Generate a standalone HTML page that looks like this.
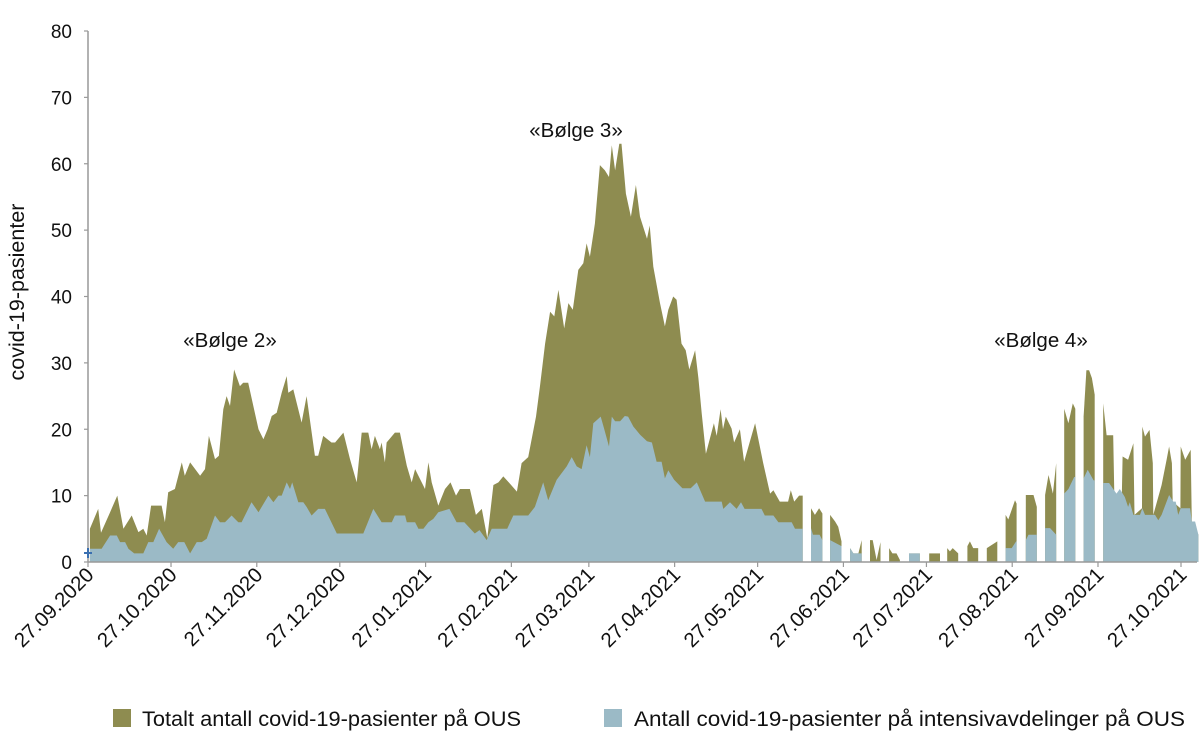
<!DOCTYPE html>
<html><head><meta charset="utf-8"><style>
body{margin:0;background:#fff;}
svg{display:block;font-family:"Liberation Sans",sans-serif;}
</style></head><body>
<svg id="chart" width="1200" height="746" viewBox="0 0 1200 746" xmlns="http://www.w3.org/2000/svg">
<g id="plot"></g>
<g id="axes"></g>
<text transform="translate(24,292) rotate(-90)" text-anchor="middle" font-size="21.5" fill="#111">covid-19-pasienter</text>
<text x="230" y="347" text-anchor="middle" font-size="20.5" fill="#111">«Bølge 2»</text>
<text x="576" y="137" text-anchor="middle" font-size="20.5" fill="#111">«Bølge 3»</text>
<text x="1041" y="347" text-anchor="middle" font-size="20.5" fill="#111">«Bølge 4»</text>
<g>
<rect x="113" y="709" width="18" height="18" fill="#8e8c50"/>
<text x="142" y="726" font-size="21.5" fill="#111" textLength="379" lengthAdjust="spacingAndGlyphs">Totalt antall covid-19-pasienter på OUS</text>
<rect x="604" y="709" width="18" height="18" fill="#9bbac6"/>
<text x="634" y="726" font-size="21.5" fill="#111" textLength="551" lengthAdjust="spacingAndGlyphs">Antall covid-19-pasienter på intensivavdelinger på OUS</text>
</g>
</svg>
<script>
const yTicks=[0,10,20,30,40,50,60,70,80];
const xTickLabels=["27.09.2020","27.10.2020","27.11.2020","27.12.2020","27.01.2021","27.02.2021","27.03.2021","27.04.2021","27.05.2021","27.06.2021","27.07.2021","27.08.2021","27.09.2021","27.10.2021"];
const xTickDays=[0,30,61,91,122,153,181,212,242,273,303,334,365,395];
const totalDays=[0.7,3.7,4.7,8,10.6,12.8,15.8,18.2,20,21.2,22.8,26.6,27.8,29,31.4,33.9,35,36.9,40.5,42.3,43.7,45.9,47.3,48.9,50.1,51.3,52.8,54.9,56.1,57.9,61.6,63.4,64.9,66.4,68.2,70,71.8,72.4,74.2,77.2,79,82,83.2,85,88,89.3,92.3,94.7,97.1,98.9,101.3,102.5,103.7,105.5,106.1,107.3,107.9,110.9,112.7,115.2,117,118.2,121.8,123,124.2,126.6,129,131,133,134.4,138,140.2,142.3,144.3,146.5,148.3,150.1,152.5,155,156.7,159.1,161.9,163.3,165.2,167,168.5,170,172.1,173.6,175.2,177.2,179,180.2,181.4,183.2,185,186.8,188.3,189.3,190.5,192,192.8,194.4,196.2,198,199.5,202,203,204.3,206.7,208.5,209.7,211.5,212.7,214.5,216,217.3,219.4,220.6,221.8,223.3,226.2,227.2,228.6,229.5,230.5,232.6,233.5,235.6,237.1,241.1,244,246.5,247.7,250,253,254,255.2,257,258.3,null,
261.3,262.7,264.2,265.4,null,268.2,270,271.1,272.3,null,275.4,276.6,278.4,279.6,null,282.6,283.6,285,286.4,null,289.5,290.7,292.2,293.4,null,296.7,300.6,null,304,307.9,null,310.5,311.5,312.5,314.5,null,317.8,318.7,319.9,321.7,null,324.8,328.6,null,331.6,332.6,335,335.6,null,338.9,341.7,342.9,null,345.9,347.1,348.7,349.9,null,352.8,354.3,355.9,356.8,null,359.8,360.8,361.8,362.8,363.8,null,
366.9,368.1,370.5,370.9,373.6,373.9,375.9,377.8,378.2,380.9,381,382,383.6,384.8,385,388,389.8,390.7,391.7,392,394.8,394.9,396.5,398.5,398.9,401.3];
const totalVals=[5,8,4.4,7.5,10,5,7,4.5,5,4,8.5,8.5,6,10.5,11,15,13,15,13,14,19,15.5,16,23,25,23.5,29,26.5,27,27,20,18.5,20,22,22.5,25.5,28,25.5,26,21,25,16,16,19,18,18,19.5,15.5,12,19.5,19.5,17,19,17,18,15,18,19.5,19.5,14.5,12,14,11,15,12,8.5,11,12,10,11,11,7.1,8,3.6,11.6,12,12.9,11.8,10.6,14.9,15.8,21.9,26.4,32.9,37.7,37,41,35.2,39,38,44,45,48,46,51,59.8,59,58,62.8,59,63,63,55.5,52,56.8,52,48.7,50.7,44.5,39,35.5,38,40,39.5,32.9,31.9,29,31.9,27.7,22.4,16.3,20.9,19,23,20,21.9,20.1,18,20,15.1,20.9,14.9,10.3,10.8,9.1,9.1,10.8,9.1,10,10,null,
8.1,7.1,8.1,7.3,null,7.1,6.1,5.3,3.1,null,2.1,1.3,1.3,3.3,null,3.3,3.3,0.3,3,null,2.1,1.3,1.3,0.3,null,1.3,1.3,null,1.3,1.3,null,2.1,1.6,2.1,1.3,null,2.4,3.1,2.1,2.1,null,2.1,3.1,null,7.1,6.4,9.3,8.8,null,10.1,10.1,8.3,null,10.1,13.1,10.3,14.9,null,23.1,20.9,23.9,23.1,null,21.9,28.9,28.9,27.7,25.2,null,
23.9,19.1,19.1,10.3,9.8,15.9,15.4,17.9,7.1,8.1,20.4,18.9,19.9,14.9,7.1,11.6,15.4,17.4,14.9,9.1,8.1,17.4,15.4,16.9,6.1,4.1];
const icuDays=[0.7,4.9,8,10.4,11.6,13.4,14.6,16.7,20,21.8,23.6,25.7,28.4,30.8,32.6,34.8,36.9,39.3,41.1,42.9,45.9,47.7,49.5,51.9,54.3,55.5,59.1,61.6,65.2,67,68.8,70,71.8,73,73.8,76,77.8,79,80.8,83.2,85.6,89.9,99.5,103.1,106.1,109.8,110.9,114.6,115.2,118.2,119.4,121.2,123,124.8,126.6,130.6,133.2,136,139.8,141.5,144.1,145.9,151.5,153.7,159.1,161.5,164.5,166.3,169.4,173,174.8,176.6,178.4,180.2,181.4,182.6,185.3,186.5,188.3,189.3,190.5,192.3,194,195.2,197.1,199.5,202,203.8,205.5,207.3,208.5,209.7,211.8,214.8,217.8,220,223,229,229.6,232,234.4,236,237.3,243.4,244.6,247.7,249.5,254.3,255.5,258.3,null,
261.3,262,264.4,265.4,null,268.2,272.3,null,275.4,276.6,279.6,null,296.7,300.6,null,331.6,333.8,335.4,335.6,null,338.9,339.9,342.9,null,345.9,347.7,349.9,null,352.8,354.3,356.4,356.8,null,359.8,361.3,363.4,363.8,null,
366.9,369,370.5,371.7,372.9,374.7,375.9,376.5,377.8,380.2,381,382,385.6,386.8,388,390.7,392.2,393.1,394,394.9,398.3,398.9,400.1,401.3];
const icuVals=[2,2,4,4,3,3,2,1.3,1.3,3,3,5,3,2,3,3,1.3,3,3,3.5,7,6,6,7,6,6,9,7.5,10,9,10,10,12,11,12,9,9,8.3,7,8,8,4.3,4.3,8,6,6,7,7,6,6,5,5,6,6.5,7.5,8,6,6,4.3,4.8,3.3,5,5,7,7,8.3,12,9.3,12.4,14.4,15.8,14.4,14,17.6,15.8,20.9,21.9,20.1,17.4,21.9,21.2,21.2,22,21.9,20.4,19.2,18.2,18,15.1,15.1,12.6,13.8,12.4,11.1,11.1,12,9.1,9.1,8,9,8,9,8,8,7,7,6,6,5,5,null,
5.1,4.1,4.1,3.3,null,3.3,2.4,null,2.1,1.3,1.3,null,1.3,1.3,null,2.1,2.1,3.1,3.1,null,3.3,4.1,4.1,null,5.1,5.1,4.1,null,10.3,11,12.8,12.8,null,12.6,13.9,12.3,12.3,null,
11.9,11.9,11,10.3,11,9.8,8.3,9,7.1,7.1,8.1,7.1,7.1,6.3,7.1,10.1,9.1,9.1,7.1,8.1,8.1,6.1,6.1,4.1];

const NS="http://www.w3.org/2000/svg";
const X0=88, PXD=(1181-88)/395, Y0=562, PXU=(562-31)/80;
const xs=d=>X0+d*PXD, ys=v=>Y0-v*PXU;
const plot=document.getElementById('plot'), axes=document.getElementById('axes');
function mk(tag,attrs,parent){const e=document.createElementNS(NS,tag);for(const k in attrs)e.setAttribute(k,attrs[k]);parent.appendChild(e);return e;}
function drawArea(days,vals,color,name){
  let seg=[];const segs=[];
  for(let i=0;i<days.length;i++){if(days[i]===null){if(seg.length)segs.push(seg);seg=[];}else seg.push([days[i],vals[i]]);}
  if(seg.length)segs.push(seg);
  segs.forEach(s=>{
    let d='M'+xs(s[0][0]).toFixed(1)+','+Y0;
    s.forEach(p=>{d+=' L'+xs(p[0]).toFixed(1)+','+ys(p[1]).toFixed(1);});
    d+=' L'+xs(s[s.length-1][0]).toFixed(1)+','+Y0+' Z';
    const p=mk('path',{d:d,fill:color},plot);
    
    
  });
}
drawArea(totalDays,totalVals,'#8e8c50','total-area');
drawArea(icuDays,icuVals,'#9bbac6','icu-area');

const ya=mk('line',{x1:X0,y1:31,x2:X0,y2:Y0,stroke:'#999','stroke-width':1.5},axes);


const xa=mk('line',{x1:X0,y1:Y0,x2:1197,y2:Y0,stroke:'#999','stroke-width':1.5},axes);


yTicks.forEach(v=>{
  const y=ys(v);
  const t=mk('line',{x1:X0-4,y1:y,x2:X0,y2:y,stroke:'#999','stroke-width':1.2},axes);
  
  
  const l=mk('text',{x:72,y:y+7,'text-anchor':'end','font-size':19,fill:'#111'},axes);
  l.textContent=v;
  
  
});
xTickDays.forEach((d,i)=>{
  const x=xs(d);
  const t=mk('line',{x1:x,y1:Y0,x2:x,y2:Y0+5,stroke:'#999','stroke-width':1.2},axes);
  
  
  const l=mk('text',{transform:'translate('+(x+7)+','+(Y0+14)+') rotate(-45)','text-anchor':'end','font-size':20.5,fill:'#111'},axes);
  l.textContent=xTickLabels[i];
  
  
});
const m=mk('path',{d:'M88,548 V558 M84,553 H92',stroke:'#3a6fb0','stroke-width':2},axes);


</script>
</body></html>
